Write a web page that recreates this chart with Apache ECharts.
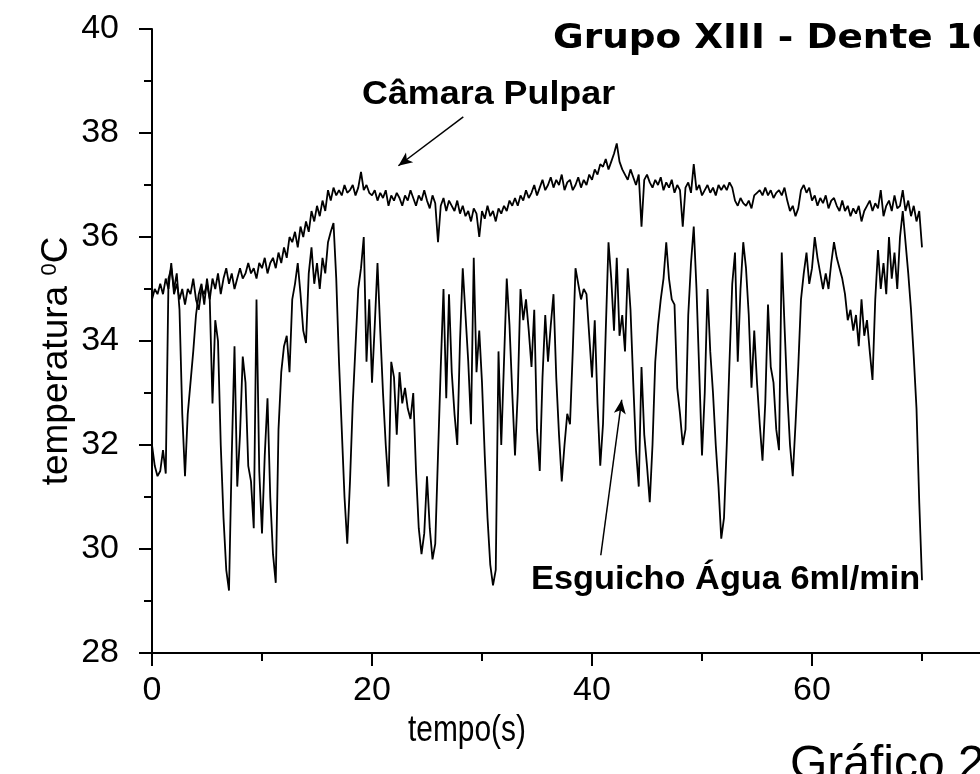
<!DOCTYPE html>
<html>
<head>
<meta charset="utf-8">
<script src="https://cdn.jsdelivr.net/npm/echarts@6/dist/echarts.min.js"></script>
<style>
  html, body { margin: 0; padding: 0; background: #fff; }
  #chart { width: 980px; height: 774px; }
</style>
</head>
<body>
<div id="chart"></div>
<script>
// Readings every 0.25 s, one row per second (t = 0 … 70 s)
const sampleStep = 0.25;

// Pulp chamber temperature (°C)
const camaraPulpar = [
  34.8, 35.0, 34.9, 35.1,   // 0
  34.9, 35.2, 35.0, 35.5,   // 1
  34.9, 35.1, 34.8, 35.0,   // 2
  34.7, 35.0, 34.9, 35.2,   // 3
  34.8, 34.6, 35.0, 34.9,   // 4
  35.1, 34.8, 35.2, 35.0,   // 5
  35.3, 34.9, 35.2, 35.4,   // 6
  35.1, 35.3, 35.0, 35.2,   // 7
  35.4, 35.2, 35.3, 35.5,   // 8
  35.3, 35.4, 35.2, 35.5,   // 9
  35.4, 35.6, 35.3, 35.5,   // 10
  35.6, 35.4, 35.7, 35.5,   // 11
  35.8, 35.6, 36.0, 35.9,   // 12
  36.1, 35.8, 36.2, 36.0,   // 13
  36.3, 36.1, 36.5, 36.3,   // 14
  36.6, 36.4, 36.7, 36.5,   // 15
  36.9, 36.7, 36.95, 36.8,  // 16
  36.9, 36.8, 37.0, 36.85,  // 17
  36.9, 37.0, 36.8, 36.95,  // 18
  37.25, 36.9, 37.0, 36.85, // 19
  36.8, 36.9, 36.7, 36.85,  // 20
  36.75, 36.9, 36.6, 36.8,  // 21
  36.7, 36.85, 36.75, 36.6, // 22
  36.8, 36.7, 36.9, 36.75,  // 23
  36.6, 36.8, 36.7, 36.9,   // 24
  36.7, 36.55, 36.8, 36.65, // 25
  35.9, 36.6, 36.75, 36.5,  // 26
  36.7, 36.6, 36.5, 36.7,   // 27
  36.45, 36.6, 36.4, 36.5,  // 28
  36.3, 36.55, 36.45, 36.0, // 29
  36.5, 36.35, 36.6, 36.4,  // 30
  36.5, 36.3, 36.55, 36.45, // 31
  36.6, 36.5, 36.7, 36.6,   // 32
  36.75, 36.6, 36.8, 36.7,  // 33
  36.9, 36.75, 36.85, 37.0, // 34
  36.8, 36.95, 37.1, 36.9,  // 35
  37.0, 37.15, 36.95, 37.1, // 36
  37.0, 37.2, 36.9, 37.05,  // 37
  37.1, 36.9, 37.0, 37.15,  // 38
  36.95, 37.1, 37.0, 37.2,  // 39
  37.1, 37.3, 37.2, 37.4,   // 40
  37.35, 37.5, 37.3, 37.45, // 41
  37.6, 37.8, 37.45, 37.3,  // 42
  37.2, 37.1, 37.3, 37.15,  // 43
  37.0, 37.2, 36.2, 37.1,   // 44
  37.2, 37.05, 36.95, 37.1, // 45
  37.0, 37.15, 36.9, 37.05, // 46
  36.95, 37.1, 36.85, 37.0, // 47
  36.9, 36.2, 36.95, 37.05, // 48
  36.85, 37.4, 36.9, 37.0,  // 49
  36.8, 36.9, 37.0, 36.85,  // 50
  36.95, 36.8, 37.0, 36.9,  // 51
  37.0, 36.9, 37.05, 36.95, // 52
  36.7, 36.6, 36.75, 36.65, // 53
  36.6, 36.7, 36.55, 36.8,  // 54
  36.85, 36.9, 36.8, 36.95, // 55
  36.8, 36.9, 36.75, 36.85, // 56
  36.9, 36.8, 36.95, 36.7,  // 57
  36.5, 36.6, 36.4, 36.55,  // 58
  36.9, 37.0, 36.85, 36.95, // 59
  36.7, 36.8, 36.6, 36.75,  // 60
  36.65, 36.8, 36.55, 36.7, // 61
  36.75, 36.6, 36.5, 36.7,  // 62
  36.5, 36.6, 36.4, 36.55,  // 63
  36.45, 36.6, 36.3, 36.5,  // 64
  36.6, 36.7, 36.5, 36.65,  // 65
  36.55, 36.9, 36.4, 36.6,  // 66
  36.7, 36.5, 36.8, 36.55,  // 67
  36.6, 36.9, 36.5, 36.7,   // 68
  36.4, 36.6, 36.3, 36.5,   // 69
  35.8                      // 70
];

// Water spray (6 ml/min) temperature (°C)
const esguichoAgua = [
  32.0, 31.6, 31.4, 31.5,   // 0
  31.9, 31.45, 35.2, 35.4,  // 1
  35.0, 35.3, 34.6, 32.6,   // 2
  31.4, 32.6, 33.2, 33.8,   // 3
  34.5, 34.9, 35.1, 34.7,   // 4
  35.2, 34.8, 32.8, 34.4,   // 5
  34.0, 32.0, 30.6, 29.6,   // 6
  29.2, 31.8, 33.9, 31.2,   // 7
  32.2, 33.7, 33.2, 31.6,   // 8
  31.3, 30.4, 34.8, 31.5,   // 9
  30.3, 31.8, 32.9, 31.0,   // 10
  29.9, 29.35, 32.3, 33.4,  // 11
  33.9, 34.1, 33.4, 34.8,   // 12
  35.1, 35.5, 34.9, 34.2,   // 13
  33.96, 35.3, 35.8, 35.1,  // 14
  35.5, 35.0, 35.6, 35.3,   // 15
  35.9, 36.1, 36.27, 35.2,  // 16
  33.6, 32.3, 31.0, 30.1,   // 17
  31.3, 32.8, 33.9, 35.0,   // 18
  35.4, 36.0, 33.6, 34.8,   // 19
  33.2, 34.3, 35.5, 34.2,   // 20
  33.0, 32.0, 31.2, 33.6,   // 21
  33.3, 32.2, 33.4, 32.8,   // 22
  33.1, 32.7, 32.5, 33.0,   // 23
  31.5, 30.4, 29.9, 30.3,   // 24
  31.4, 30.4, 29.8, 30.1,   // 25
  31.8, 33.5, 35.0, 32.9,   // 26
  34.9, 33.4, 32.6, 32.0,   // 27
  34.0, 35.4, 34.5, 33.6,   // 28
  32.4, 35.6, 33.4, 34.2,   // 29
  33.2, 31.8, 30.6, 29.7,   // 30
  29.3, 29.6, 33.8, 32.0,   // 31
  33.6, 35.2, 34.3, 33.0,   // 32
  31.8, 33.0, 35.0, 34.4,   // 33
  34.8, 34.2, 33.5, 34.6,   // 34
  32.3, 31.5, 33.3, 34.5,   // 35
  33.6, 34.3, 34.9, 33.3,   // 36
  32.2, 31.3, 32.0, 32.6,   // 37
  32.4, 33.8, 35.4, 35.1,   // 38
  34.8, 35.0, 34.9, 34.1,   // 39
  33.3, 34.4, 32.8, 31.6,   // 40
  32.4, 34.2, 35.9, 35.2,   // 41
  34.2, 35.6, 34.1, 34.5,   // 42
  33.8, 35.4, 34.6, 33.2,   // 43
  31.9, 31.2, 33.5, 32.2,   // 44
  31.6, 30.9, 32.0, 33.6,   // 45
  34.3, 34.8, 35.2, 35.9,   // 46
  35.2, 34.8, 34.7, 33.1,   // 47
  32.6, 32.0, 32.3, 34.5,   // 48
  35.5, 36.2, 35.0, 33.4,   // 49
  31.8, 33.0, 35.0, 33.8,   // 50
  33.0, 32.0, 31.2, 30.2,   // 51
  30.6, 32.0, 33.6, 35.1,   // 52
  35.7, 33.6, 35.0, 35.9,   // 53
  35.4, 34.5, 33.1, 34.2,   // 54
  33.2, 32.4, 31.7, 32.8,   // 55
  34.7, 33.5, 33.2, 32.3,   // 56
  31.9, 35.7, 34.3, 33.0,   // 57
  32.0, 31.4, 32.4, 33.5,   // 58
  34.8, 35.3, 35.7, 35.1,   // 59
  35.4, 36.0, 35.6, 35.3,   // 60
  35.0, 35.3, 35.0, 35.5,   // 61
  35.9, 35.6, 35.4, 35.2,   // 62
  34.9, 34.4, 34.6, 34.2,   // 63
  34.5, 33.9, 34.8, 34.1,   // 64
  34.4, 33.8, 33.25, 34.8,  // 65
  35.75, 35.0, 35.5, 34.9,  // 66
  36.0, 35.2, 35.7, 35.0,   // 67
  36.0, 36.5, 35.9, 35.3,   // 68
  34.6, 33.7, 32.7, 30.9,   // 69
  29.4                      // 70
];

const xMajorTicks = [0, 20, 40, 60, 80];
const xMinorTicks = [10, 30, 50, 70];
const yRange = [28, 40];
const yStep = 2;

// Annotation arrows, in data units: [start, end]
const arrowCamara = [[28.3, 38.31], [22.4, 37.37]];
const arrowEsguicho = [[40.8, 29.88], [42.7, 32.87]];

function toPoints(values) {
  return values.map((v, i) => [i * sampleStep, v]);
}

const INK = '#000';
const tickFont = '"Liberation Sans", Arial, sans-serif';

const chart = echarts.init(document.getElementById('chart'), null, { renderer: 'canvas' });

function arrowLine(pair) {
  return [
    { coord: pair[0], symbol: 'none' },
    { coord: pair[1], symbol: 'arrow', symbolSize: [9, 14] }
  ];
}

chart.setOption({
  animation: false,
  backgroundColor: '#fff',
  grid: { left: 141, top: 29, width: 891, height: 624, outerBoundsMode: 'none', containLabel: false },
  xAxis: [
    {
      type: 'value', min: -1, max: 80,
      axisLine: { show: true, lineStyle: { color: INK, width: 2 } },
      axisTick: { show: true, length: 13, lineStyle: { color: INK, width: 2 }, customValues: xMajorTicks },
      axisLabel: { color: INK, fontSize: 34, fontFamily: tickFont, margin: 21, customValues: xMajorTicks },
      splitLine: { show: false }
    },
    {
      type: 'value', min: -1, max: 80, gridIndex: 0, position: 'bottom',
      axisLine: { show: false },
      axisTick: { show: true, length: 8, lineStyle: { color: INK, width: 2 }, customValues: xMinorTicks },
      axisLabel: { show: false },
      splitLine: { show: false }
    }
  ],
  yAxis: {
    type: 'value', min: yRange[0], max: yRange[1], interval: yStep,
    axisLine: { show: true, lineStyle: { color: INK, width: 2 } },
    axisTick: { show: true, length: 13, lineStyle: { color: INK, width: 2 } },
    minorTick: { show: true, splitNumber: 2, length: 8, lineStyle: { color: INK, width: 2 } },
    axisLabel: { color: INK, fontSize: 34, fontFamily: tickFont, margin: 22 },
    splitLine: { show: false }
  },
  series: [
    {
      name: 'Câmara Pulpar', type: 'line', data: toPoints(camaraPulpar),
      showSymbol: false, symbol: 'none',
      lineStyle: { color: INK, width: 1.8 },
      markLine: {
        silent: true, symbol: ['none', 'arrow'],
        lineStyle: { color: INK, width: 1.5, type: 'solid' },
        label: { show: false },
        data: [arrowLine(arrowCamara)]
      }
    },
    {
      name: 'Esguicho Água 6ml/min', type: 'line', data: toPoints(esguichoAgua),
      showSymbol: false, symbol: 'none',
      lineStyle: { color: INK, width: 1.8 },
      markLine: {
        silent: true, symbol: ['none', 'arrow'],
        lineStyle: { color: INK, width: 1.5, type: 'solid' },
        label: { show: false },
        data: [arrowLine(arrowEsguicho)]
      }
    }
  ],
  graphic: [
    {
      type: 'text', x: 553, y: 39, scaleX: 1.1,
      style: { text: 'Grupo XIII - Dente 10', font: 'bold 34px "DejaVu Sans", Verdana, sans-serif', fill: INK, textAlign: 'left', textVerticalAlign: 'middle' }
    },
    {
      type: 'text', x: 362, y: 95, scaleX: 1.055,
      style: { text: 'Câmara Pulpar', font: 'bold 34px "Liberation Sans", Arial, sans-serif', fill: INK, textAlign: 'left', textVerticalAlign: 'middle' }
    },
    {
      type: 'text', x: 531, y: 580, scaleX: 1.01,
      style: { text: 'Esguicho Água 6ml/min', font: 'bold 34px "Liberation Sans", Arial, sans-serif', fill: INK, textAlign: 'left', textVerticalAlign: 'middle' }
    },
    {
      type: 'text', x: 467, y: 731, scaleX: 0.83,
      style: { text: 'tempo(s)', font: '36px "Liberation Sans", Arial, sans-serif', fill: INK, textAlign: 'center', textVerticalAlign: 'middle' }
    },
    {
      type: 'text', x: 57, y: 361, rotation: Math.PI / 2,
      style: {
        text: '{a|temperatura }{s|0}{a|C}',
        textAlign: 'center', textVerticalAlign: 'middle', fill: INK,
        rich: {
          a: { fontSize: 37, fontFamily: '"Liberation Sans", Arial, sans-serif', fill: INK, color: INK },
          s: { fontSize: 22, fontFamily: '"Liberation Sans", Arial, sans-serif', fill: INK, color: INK, verticalAlign: 'top' }
        }
      }
    },
    {
      type: 'text', x: 790, y: 766,
      style: { text: 'Gráfico 2', font: '48px "Liberation Sans", Arial, sans-serif', fill: INK, textAlign: 'left', textVerticalAlign: 'middle' }
    }
  ]
});
</script>
</body>
</html>
